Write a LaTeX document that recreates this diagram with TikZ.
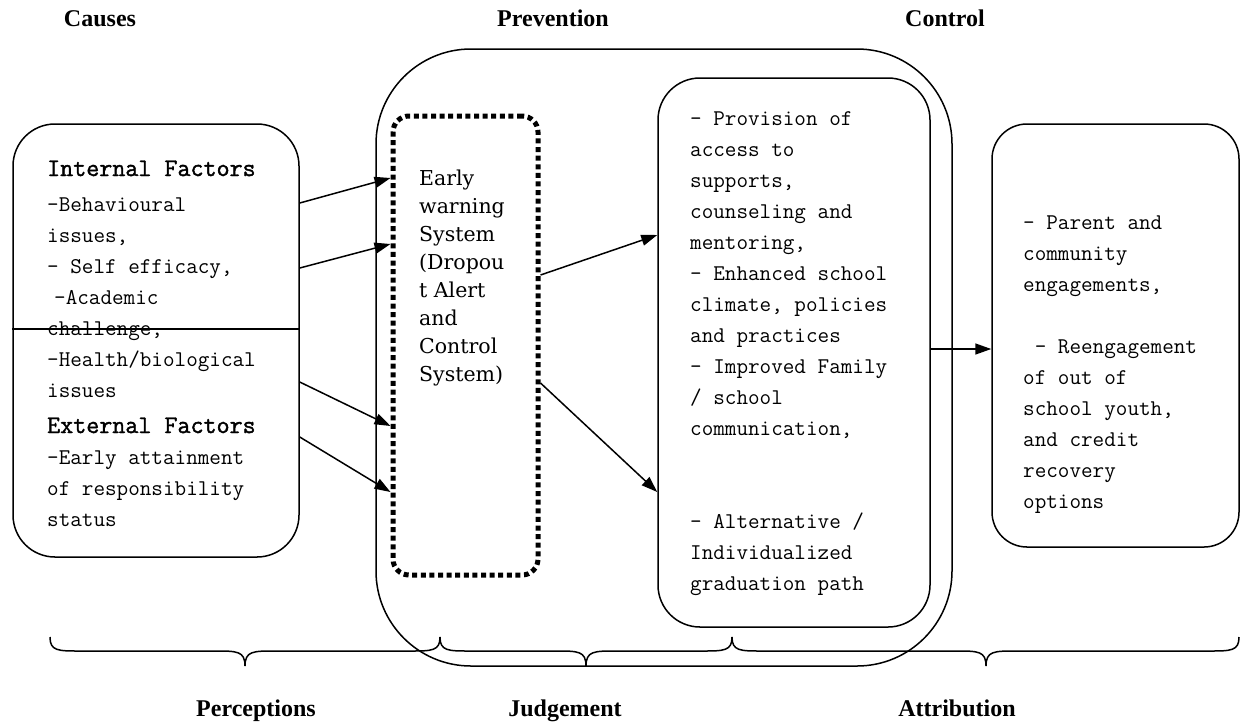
\documentclass[tikz,border=0pt]{standalone}
\usepackage{fontspec}
\setmainfont{Liberation Serif}
\setmonofont{Latin Modern Mono}
\newfontfamily\headfont[FakeBold=1.5]{Latin Modern Mono}
\newfontfamily\ewsfont{DejaVu Serif}
\usetikzlibrary{arrows.meta}

\begin{document}
\begin{tikzpicture}[x=1pt, y=-1pt,
  box/.style={draw, line width=1.5pt, inner sep=0pt},
  ewsbox/.style={draw, line width=5pt, dash pattern=on 5pt off 3.6pt, rounded corners=16pt, inner sep=0pt},
  body/.style={font=\ttfamily\fontsize{22.5}{31}\selectfont, align=left, inner sep=0pt, anchor=north west},
  head/.style={font=\headfont\fontsize{25.3}{31}\selectfont, inner sep=0pt, anchor=base west},
  title/.style={font=\bfseries\fontsize{24}{28}\selectfont, inner sep=0pt, anchor=base},
  arr/.style={-{Triangle[length=16pt,width=11pt]}, line width=1.5pt},
  curly/.style={line width=1.5pt}]
  \useasboundingbox (0,0) rectangle (1241,721);

  % headings
  \node[title] (tcauses) at (100,26) {Causes};
  \node[title] (tprev) at (553,26) {Prevention};
  \node[title] (tcontrol) at (945,26) {Control};
  \node[title] (bperc) at (256,716) {Perceptions};
  \node[title] (bjudge) at (565,716) {Judgement};
  \node[title] (battr) at (957,716) {Attribution};

  % boxes
  \node[box, rounded corners=42pt, minimum width=286pt, minimum height=433pt] (causes) at (156,340.5) {};
  \node[box, rounded corners=95pt, minimum width=576pt, minimum height=617pt] (prev) at (664,357.5) {};
  \node[ewsbox, minimum width=145pt, minimum height=459pt] (ews) at (465.5,345.5) {};
  \node[box, rounded corners=42pt, minimum width=272pt, minimum height=549pt] (ctrl) at (794,352.5) {};
  \node[box, rounded corners=35pt, minimum width=247pt, minimum height=423pt] (attr) at (1115.5,335.5) {};

  \coordinate (split) at (0,329);
  \draw[line width=1.5pt] (causes.west |- split) -- (causes.east |- split);

  % texts
  \node[head] (ihead) at (47,176) {Internal Factors};
  \node[body] (itxt) at (47,198) {-Behavioural\\ issues,\\ - Self efficacy,\\ \hspace*{7pt}-Academic\\ challenge,\\ -Health/biological\\ issues};
  \node[head] (ehead) at (47,433) {External Factors};
  \node[body] (etxt) at (47,451) {-Early attainment\\ of responsibility\\ status};
  \node[body, font=\ewsfont\fontsize{20.5}{28}\selectfont] (ewstxt) at (419,169.5) {Early\\ warning\\ System\\ (Dropou\\ t Alert\\ and\\ Control\\ System)};
  \node[body] (ctxt) at (690,111) {- Provision of\\ access to\\ supports,\\ counseling and\\ mentoring,\\ - Enhanced school\\ climate, policies\\ and practices\\ - Improved Family\\ / school\\ communication,\\ \mbox{}\\ \mbox{}\\ - Alternative /\\ Individualized\\ graduation path};
  \node[body] (atxt) at (1023,216) {- Parent and\\ community\\ engagements,\\ \mbox{}\\ \ - Reengagement\\ of out of\\ school youth,\\ and credit\\ recovery\\ options};

  % arrows
  \draw[arr] (causes.east |- 0,203) -- (ews.west |- 0,178);
  \draw[arr] (causes.east |- 0,268) -- (ews.west |- 0,244);
  \draw[arr] (causes.east |- 0,382) -- (ews.west |- 0,426);
  \draw[arr] (causes.east |- 0,437) -- (ews.west |- 0,492);
  \draw[arr] (ews.east |- 0,275) -- (ctrl.west |- 0,235);
  \draw[arr] (ews.east |- 0,383) -- (ctrl.west |- 0,492);
  \draw[arr] (ctrl.east |- 0,349) -- (attr.west |- 0,349);

  % braces
  \foreach \a/\m/\b in {50/245/440, 440/586/732, 732/986/1239}
    \draw[curly] (\a,637) .. controls (\a,651) and (\a+8,651) .. (\a+30,651) -- (\m-30,651)
      .. controls (\m-8,651) and (\m,651) .. (\m,666) .. controls (\m,651) and (\m+8,651) .. (\m+30,651)
      -- (\b-30,651) .. controls (\b-8,651) and (\b,651) .. (\b,637);
\end{tikzpicture}
\end{document}
